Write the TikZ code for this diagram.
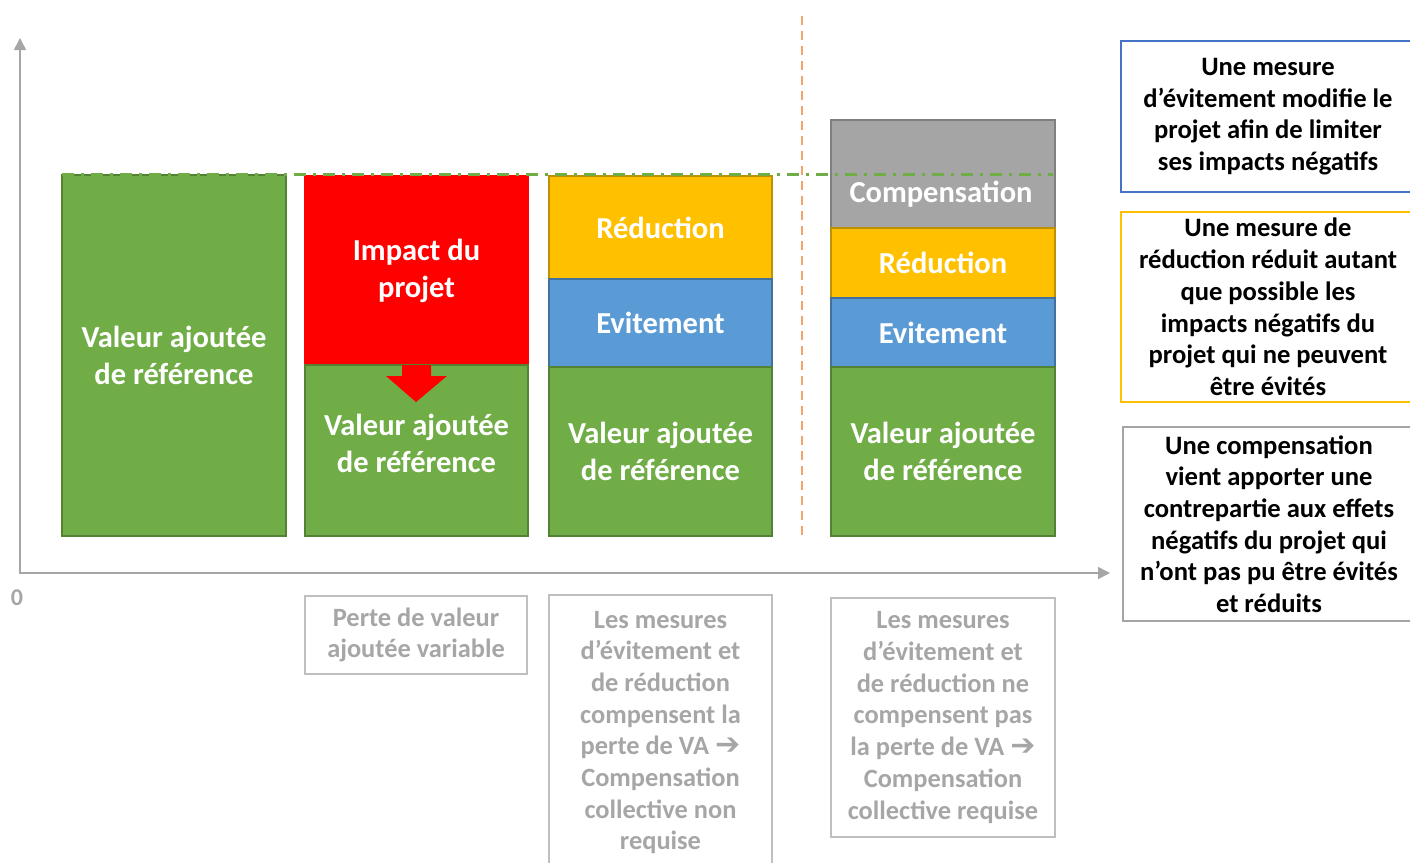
\documentclass[tikz,border=0pt]{standalone}
\usepackage{fontspec}
\setmainfont{Carlito}
\newfontfamily\dejavu{DejaVu Sans}
\usetikzlibrary{arrows.meta}
\definecolor{vgreen}{HTML}{70AD47}
\definecolor{vgreenD}{HTML}{548235}
\definecolor{vred}{HTML}{FF0000}
\definecolor{vyel}{HTML}{FFC000}
\definecolor{vyelD}{HTML}{BF9000}
\definecolor{vblue}{HTML}{5B9BD5}
\definecolor{vblueD}{HTML}{41719C}
\definecolor{vgray}{HTML}{A5A5A5}
\definecolor{vgrayD}{HTML}{7F7F7F}
\definecolor{vaxis}{HTML}{A6A6A6}
\definecolor{vorange}{HTML}{F4A46A}
\definecolor{vboxblue}{HTML}{4472C4}
\definecolor{vtxtgray}{HTML}{A6A6A6}
\definecolor{vboxgray}{HTML}{BFBFBF}
\newcommand{\vaarrow}{{\dejavu\bfseries\fontsize{30}{31.7}\selectfont ➔}}
\begin{document}
\begin{tikzpicture}[x=1pt,y=-1pt,
  bar/.style={draw, line width=1.5pt, inner sep=0pt, text=white,
    font=\bfseries\fontsize{30.5}{37}\selectfont, align=center},
  bartext/.style={text=white, font=\bfseries\fontsize{30.5}{37}\selectfont, align=center, inner sep=0pt},
  notebox/.style={draw, line width=1.5pt, inner sep=0pt, align=center,
    font=\bfseries\fontsize{26.6}{31.7}\selectfont},
  grayname/.style={draw=vboxgray, line width=1.2pt, inner sep=0pt, align=center, text=vtxtgray,
    font=\bfseries\fontsize{26.4}{31.7}\selectfont},
  axis/.style={draw=vaxis, line width=1.6pt}
]
\useasboundingbox (0,0) rectangle (1410,862);

% axes
\coordinate (ytop) at (20,38);
\coordinate (orig) at (20,573);
\coordinate (xend) at (1110,573);
\draw[axis, {Triangle[length=12pt,width=12pt]}-{Triangle[length=12pt,width=12pt]}] (ytop) -- (orig) -- (xend);
\node[text=vtxtgray, font=\bfseries\fontsize{24}{28}\selectfont] (zero) at (17,598) {0};

% bar 1
\node[bar, fill=vgreen, draw=vgreenD, minimum width=224pt, minimum height=361pt] (b1) at (174,355.5) {Valeur ajoutée\\de référence};

% bar 2
\node[bar, fill=vred, draw=vred, minimum width=223pt, minimum height=189pt] (b2r) at (416.5,270.5) {Impact du\\projet};
\node[bar, fill=vgreen, draw=vgreenD, minimum width=223pt, minimum height=171pt] (b2g) at (416.5,450.5) {};
\fill[vred] (402,365) -- (431,365) -- (431,376) -- (447,376) -- (416,402) -- (386,376) -- (402,376) -- cycle;
\node[bartext] (b2t) at (416.5,443) {Valeur ajoutée\\de référence};

% bar 3
\node[bar, fill=vyel, draw=vyelD, minimum width=223pt, minimum height=103pt] (b3y) at (660.5,227.5) {Réduction};
\node[bar, fill=vblue, draw=vblueD, minimum width=223pt, minimum height=88pt] (b3b) at (660.5,323) {Evitement};
\node[bar, fill=vgreen, draw=vgreenD, minimum width=223pt, minimum height=169pt] (b3g) at (660.5,451.5) {Valeur ajoutée\\de référence};

% bar 4
\node[bar, fill=vgray, draw=vgrayD, minimum width=224pt, minimum height=108pt] (b4c) at (943,174) {};
\node[bar, fill=vyel, draw=vyelD, minimum width=224pt, minimum height=70pt] (b4y) at (943,263) {Réduction};
\node[bar, fill=vblue, draw=vblueD, minimum width=224pt, minimum height=69pt] (b4b) at (943,332.5) {Evitement};
\node[bar, fill=vgreen, draw=vgreenD, minimum width=224pt, minimum height=169pt] (b4g) at (943,451.5) {Valeur ajoutée\\de référence};
\node[bartext] (b4t) at (941,194) {Compensation};

% reference level line
\coordinate (lvlA) at (62,174);
\coordinate (lvlB) at (1053,174);
\draw[vgreen, line width=3pt, dash pattern=on 12pt off 7pt on 3pt off 7pt] (lvlA) -- (lvlB);

% separator
\coordinate (sepA) at (802,16);
\coordinate (sepB) at (802,535);
\draw[vorange, line width=2pt, dash pattern=on 9pt off 6pt] (sepA) -- (sepB);

% notes at right
\node[notebox, draw=vboxblue, minimum width=294pt, minimum height=151pt] (n1) at (1268,116.5)
  {Une mesure\\d’évitement modifie le\\projet afin de limiter\\ses impacts négatifs};
\node[notebox, draw=vyel, minimum width=294pt, minimum height=190pt] (n2) at (1268,307)
  {Une mesure de\\réduction réduit autant\\que possible les\\impacts négatifs du\\projet qui ne peuvent\\être évités};
\node[notebox, draw=vgray, minimum width=292pt, minimum height=194pt] (n3) at (1269,524)
  {Une compensation\\vient apporter une\\contrepartie aux effets\\négatifs du projet qui\\n’ont pas pu être évités\\et réduits};

% bottom comments
\node[grayname, minimum width=222pt, minimum height=78pt] (c1) at (416,635)
  {Perte de valeur\\ajoutée variable};
\node[grayname, minimum width=223pt, minimum height=275pt] (c2) at (660.5,732.5)
  {Les mesures\\d’évitement et\\de réduction\\compensent la\\perte de VA \vaarrow\\Compensation\\collective non\\requise};
\node[grayname, minimum width=224pt, minimum height=239pt] (c3) at (943,717.5)
  {Les mesures\\d’évitement et\\de réduction ne\\compensent pas\\la perte de VA \vaarrow\\Compensation\\collective requise};
\end{tikzpicture}
\end{document}
